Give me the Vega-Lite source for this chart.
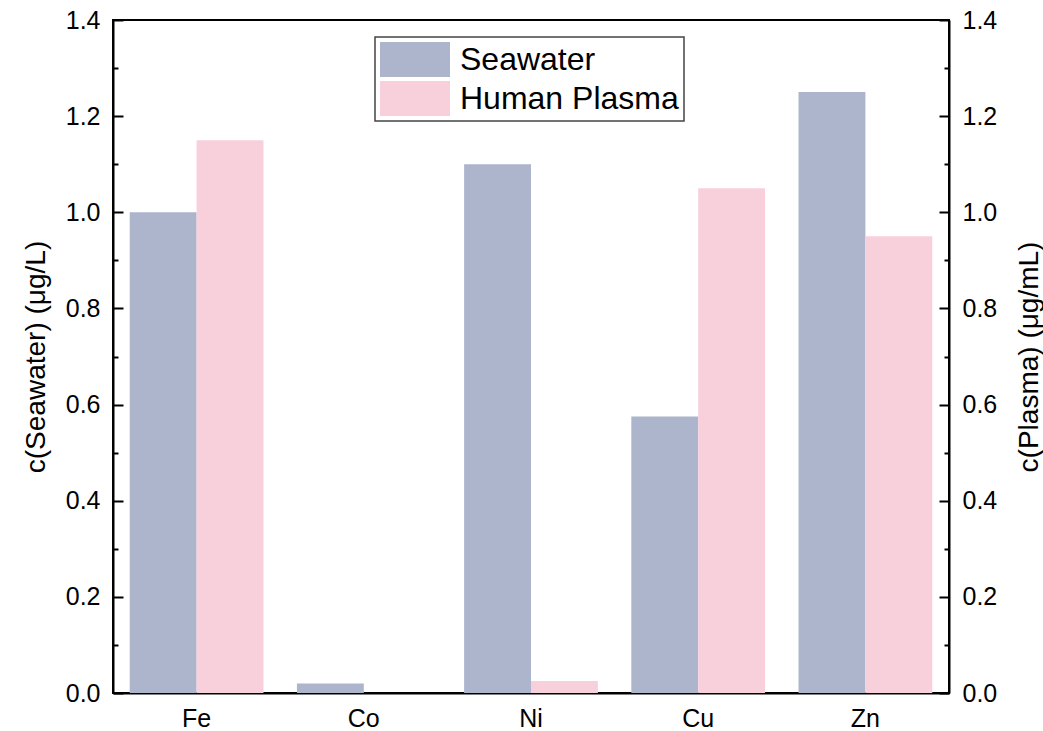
{
  "$schema": "https://vega.github.io/schema/vega-lite/v6.json",
  "width": 836,
  "height": 673,
  "autosize": {"type": "none"},
  "padding": {"left": 113, "top": 20, "right": 94, "bottom": 38},
  "background": "white",
  "config": {
    "font": "Liberation Sans",
    "view": {"stroke": "black", "strokeWidth": 2},
    "legend": {"strokeColor": "#444444", "fillColor": "white"},
    "axis": {
      "domainColor": "black", "domainWidth": 2, "tickColor": "black", "tickWidth": 2,
      "labelColor": "black", "titleColor": "black", "grid": false,
      "labelFont": "Liberation Sans", "titleFont": "Liberation Sans",
      "labelFontSize": 25, "titleFontSize": 28, "titleFontWeight": "normal"
    }
  },
  "data": {
    "values": [
      {"element": "Fe", "series": "Seawater", "value": 1.0},
      {"element": "Fe", "series": "Human Plasma", "value": 1.15},
      {"element": "Co", "series": "Seawater", "value": 0.02},
      {"element": "Co", "series": "Human Plasma", "value": 0.0},
      {"element": "Ni", "series": "Seawater", "value": 1.1},
      {"element": "Ni", "series": "Human Plasma", "value": 0.025},
      {"element": "Cu", "series": "Seawater", "value": 0.575},
      {"element": "Cu", "series": "Human Plasma", "value": 1.05},
      {"element": "Zn", "series": "Seawater", "value": 1.25},
      {"element": "Zn", "series": "Human Plasma", "value": 0.95}
    ]
  },
  "encoding": {
    "x": {
      "field": "element", "type": "nominal", "sort": ["Fe", "Co", "Ni", "Cu", "Zn"],
      "scale": {"paddingInner": 0.2, "paddingOuter": 0.1},
      "axis": {"title": null, "labelAngle": 0, "ticks": false, "labelPadding": 13, "labelFontSize": 25}
    },
    "xOffset": {"field": "series", "type": "nominal", "sort": ["Seawater", "Human Plasma"], "scale": {"paddingInner": 0, "paddingOuter": 0}}
  },
  "layer": [
    {
      "mark": {"type": "bar"},
      "encoding": {
        "y": {
          "field": "value", "type": "quantitative",
          "scale": {"domain": [0, 1.4], "nice": false, "zero": true},
          "axis": {
            "orient": "left", "title": "c(Seawater) (μg/L)",
            "values": [0, 0.1, 0.2, 0.3, 0.4, 0.5, 0.6, 0.7, 0.8, 0.9, 1.0, 1.1, 1.2, 1.3, 1.4],
            "labelExpr": "round(datum.value*10)%2==0 ? format(datum.value,'.1f') : ''",
            "tickSize": {"condition": {"test": "round(datum.value*10)%2==1", "value": -5}, "value": -10},
            "labelPadding": 23, "titlePadding": 15
          }
        },
        "color": {
          "field": "series", "type": "nominal",
          "sort": ["Seawater", "Human Plasma"],
          "scale": {"domain": ["Seawater", "Human Plasma"], "range": ["#adb5cc", "#f8d0dc"]},
          "legend": {
            "title": null, "orient": "none", "legendX": 262, "legendY": 17,
            "symbolType": "M-1,-1H3V1H-1Z", "symbolSize": 1225, "symbolStrokeWidth": 0,
            "symbolOpacity": 1, "labelLimit": 400,
            "labelFontSize": 32, "labelFont": "Liberation Sans", "labelColor": "black",
            "labelOffset": 45, "rowPadding": 4, "padding": 5,
            "encode": {"legend": {"update": {"strokeWidth": {"value": 1.5}}}}
          }
        }
      }
    },
    {
      "mark": {"type": "bar", "opacity": 0},
      "encoding": {
        "y": {
          "field": "value", "type": "quantitative",
          "axis": {
            "orient": "right", "title": "c(Plasma) (μg/mL)", "titleAngle": 270,
            "values": [0, 0.1, 0.2, 0.3, 0.4, 0.5, 0.6, 0.7, 0.8, 0.9, 1.0, 1.1, 1.2, 1.3, 1.4],
            "labelExpr": "round(datum.value*10)%2==0 ? format(datum.value,'.1f') : ''",
            "tickSize": {"condition": {"test": "round(datum.value*10)%2==1", "value": -5}, "value": -10},
            "labelPadding": 23, "titlePadding": 47
          }
        }
      }
    }
  ],
  "resolve": {"axis": {"y": "independent"}}
}
